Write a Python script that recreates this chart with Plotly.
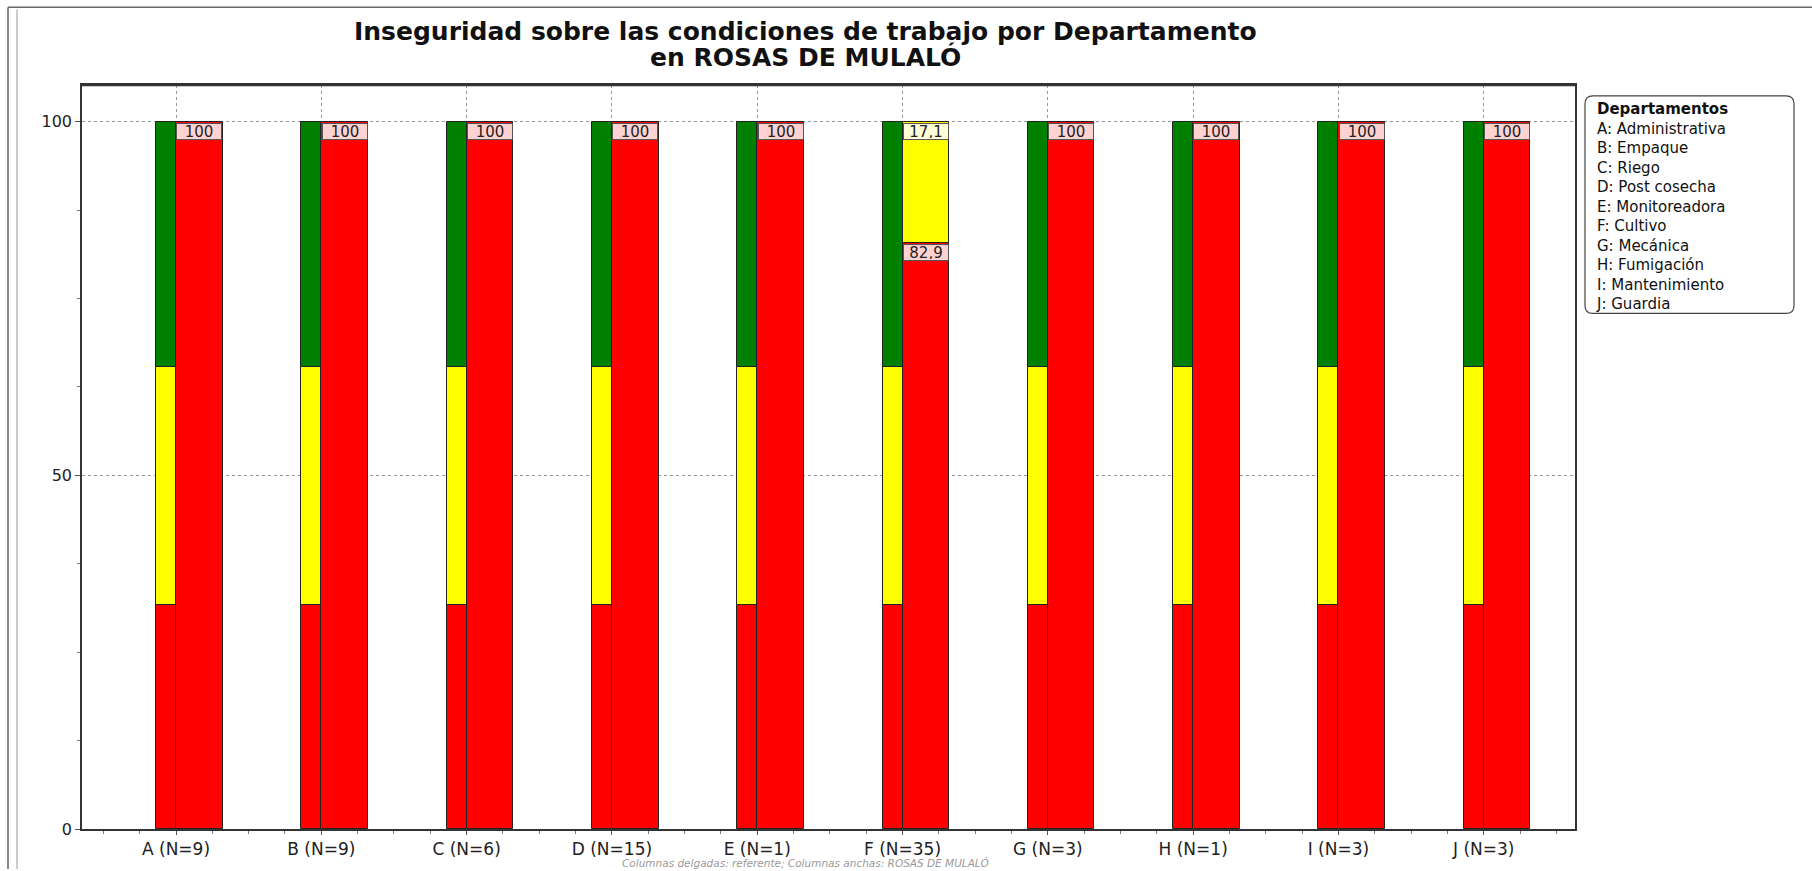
import plotly.graph_objects as go

# ---------------- data ----------------
categories = ['A (N=9)', 'B (N=9)', 'C (N=6)', 'D (N=15)', 'E (N=1)',
              'F (N=35)', 'G (N=3)', 'H (N=1)', 'I (N=3)', 'J (N=3)']
# thin columns: referente
ref_red = [31.7, 31.7, 31.7, 31.7, 31.7, 31.7, 31.7, 31.7, 31.7, 31.7]
ref_yellow = [33.6, 33.6, 33.6, 33.6, 33.6, 33.6, 33.6, 33.6, 33.6, 33.6]
ref_green = [34.7, 34.7, 34.7, 34.7, 34.7, 34.7, 34.7, 34.7, 34.7, 34.7]
# wide columns: ROSAS DE MULALÓ
org_red = [100, 100, 100, 100, 100, 82.9, 100, 100, 100, 100]
org_yellow = [0, 0, 0, 0, 0, 17.1, 0, 0, 0, 0]
org_green = [0, 0, 0, 0, 0, 0, 0, 0, 0, 0]
y_ticks = [0, 50, 100]
legend_title = 'Departamentos'
legend_lines = ['A: Administrativa', 'B: Empaque', 'C: Riego', 'D: Post cosecha',
                'E: Monitoreadora', 'F: Cultivo', 'G: Mecánica', 'H: Fumigación',
                'I: Mantenimiento', 'J: Guardia']
title_lines = ['Inseguridad sobre las condiciones de trabajo por Departamento',
               'en ROSAS DE MULALÓ']
footnote = 'Columnas delgadas: referente; Columnas anchas: ROSAS DE MULALÓ'

# ---------------- layout geometry ----------------
W, H = 1812, 871
L, R, T, B = 82, 1575, 85, 831
FONT = 'DejaVu Sans'

def px2x(px):
    return (px - L) / (R - L)

def py2y(py):
    return (B - py) / (B - T)

COLORS = {'red': '#FF0000', 'yellow': '#FFFF00', 'green': '#008000'}
LABEL_BG = {'red': '#FFD2D2', 'yellow': '#FFFFD8', 'green': '#D8F0D8'}

THIN_W, THIN_OFF = 0.1375, -0.1375
WIDE_W, WIDE_OFF = 0.321, 0.0

xpos = list(range(len(categories)))
fig = go.Figure()
annotations = []

def add_stack(segments, width, offset, labels):
    base = [0.0] * len(xpos)
    for name, vals in segments:
        xs, ys, bs = [], [], []
        for i, v in enumerate(vals):
            if v > 0:
                xs.append(xpos[i]); ys.append(v); bs.append(base[i])
                if labels:
                    txt = ('%g' % v).replace('.', ',')
                    annotations.append(dict(
                        x=xpos[i] + offset + width / 2, y=base[i] + v,
                        xref='x', yref='y', text=txt, showarrow=False,
                        yanchor='top', xanchor='center', yshift=-1,
                        width=42, height=13, borderpad=1, borderwidth=1,
                        bordercolor='#555555', bgcolor=LABEL_BG[name],
                        font=dict(family=FONT, size=15, color='#222222')))
        for i, v in enumerate(vals):
            base[i] += v
        if xs:
            fig.add_trace(go.Bar(
                x=xs, y=ys, base=bs, width=width, offset=offset,
                marker=dict(color=COLORS[name], line=dict(color='#222222', width=1)),
                showlegend=False, hoverinfo='skip'))

add_stack([('red', ref_red), ('yellow', ref_yellow), ('green', ref_green)],
          THIN_W, THIN_OFF, labels=False)
add_stack([('red', org_red), ('yellow', org_yellow), ('green', org_green)],
          WIDE_W, WIDE_OFF, labels=True)

# title lines
cx = px2x(805)
annotations.append(dict(x=cx, y=py2y(31), xref='paper', yref='paper',
                        text='<b>%s</b>' % title_lines[0], showarrow=False,
                        xanchor='center', yanchor='middle',
                        font=dict(family=FONT, size=25, color='#111111')))
annotations.append(dict(x=cx, y=py2y(57), xref='paper', yref='paper',
                        text='<b>%s</b>' % title_lines[1], showarrow=False,
                        xanchor='center', yanchor='middle',
                        font=dict(family=FONT, size=25, color='#111111')))
# footnote
annotations.append(dict(x=cx, y=py2y(865), xref='paper', yref='paper',
                        text='<i>%s</i>' % footnote, showarrow=False,
                        xanchor='center', yanchor='middle',
                        font=dict(family=FONT, size=10.5, color='#9a9a9a')))
# legend box text (single multi-line block, left aligned)
annotations.append(dict(x=px2x(1594), y=py2y(98), xref='paper', yref='paper',
                        text='<b>%s</b><br>' % legend_title + '<br>'.join(legend_lines),
                        showarrow=False, xanchor='left', yanchor='top', align='left',
                        font=dict(family=FONT, size=15, color='#111111')))

# rounded legend frame
x0, x1, y0, y1 = 1585, 1794, 96, 314
r = 8
def P(px, py):
    return '%f,%f' % (px2x(px), py2y(py))
path = ('M ' + P(x0 + r, y0) + ' L ' + P(x1 - r, y0) + ' Q ' + P(x1, y0) + ' ' + P(x1, y0 + r) +
        ' L ' + P(x1, y1 - r) + ' Q ' + P(x1, y1) + ' ' + P(x1 - r, y1) +
        ' L ' + P(x0 + r, y1) + ' Q ' + P(x0, y1) + ' ' + P(x0, y1 - r) +
        ' L ' + P(x0, y0 + r) + ' Q ' + P(x0, y0) + ' ' + P(x0 + r, y0) + ' Z')
shapes = [
    dict(type='path', path=path, xref='paper', yref='paper',
         line=dict(color='#444444', width=1.2)),
    # thicker top border of plot
    dict(type='line', xref='paper', yref='paper', x0=0, x1=1, y0=1, y1=1,
         line=dict(color='#333333', width=2.5)),
    # outer window frame
    dict(type='line', xref='paper', yref='paper', x0=px2x(8), x1=px2x(W), y0=py2y(7), y1=py2y(7),
         line=dict(color='#666666', width=1.5)),
    dict(type='line', xref='paper', yref='paper', x0=px2x(8), x1=px2x(8), y0=py2y(7), y1=py2y(H),
         line=dict(color='#666666', width=1.5)),
    dict(type='line', xref='paper', yref='paper', x0=px2x(17), x1=px2x(17), y0=py2y(9), y1=py2y(H),
         line=dict(color='#bbbbbb', width=1.5)),
]

fig.update_layout(
    width=W, height=H, autosize=False,
    margin=dict(l=L, r=W - R, t=T, b=H - B, pad=0),
    paper_bgcolor='white', plot_bgcolor='white',
    barmode='overlay', bargap=0,
    showlegend=False,
    annotations=annotations, shapes=shapes,
    font=dict(family=FONT, color='#222222'),
    xaxis=dict(
        range=[-0.647, 9.628], tickmode='array', tickvals=xpos, ticktext=categories,
        showgrid=True, gridcolor='#999999', griddash='dot', gridwidth=1,
        zeroline=False, showline=True, mirror=True, linecolor='#333333', linewidth=1.5,
        ticks='outside', ticklen=4, tickcolor='#555555',
        minor=dict(dtick=0.25, tick0=0, ticks='outside', ticklen=3, tickcolor='#777777', showgrid=False),
        tickfont=dict(family=FONT, size=17, color='#222222')),
    yaxis=dict(
        range=[0, 105.17], tickmode='array', tickvals=y_ticks,
        showgrid=True, gridcolor='#999999', griddash='dot', gridwidth=1,
        zeroline=False, showline=True, mirror=True, linecolor='#333333', linewidth=1.5,
        ticks='outside', ticklen=5, tickcolor='#555555',
        minor=dict(dtick=12.5, tick0=0, ticks='outside', ticklen=3, tickcolor='#777777', showgrid=False),
        tickfont=dict(family=FONT, size=16, color='#222222')),
)

fig.write_html('out.html', config={'displayModeBar': False},
               post_script="document.body.style.margin='0';document.body.style.overflow='hidden';")
